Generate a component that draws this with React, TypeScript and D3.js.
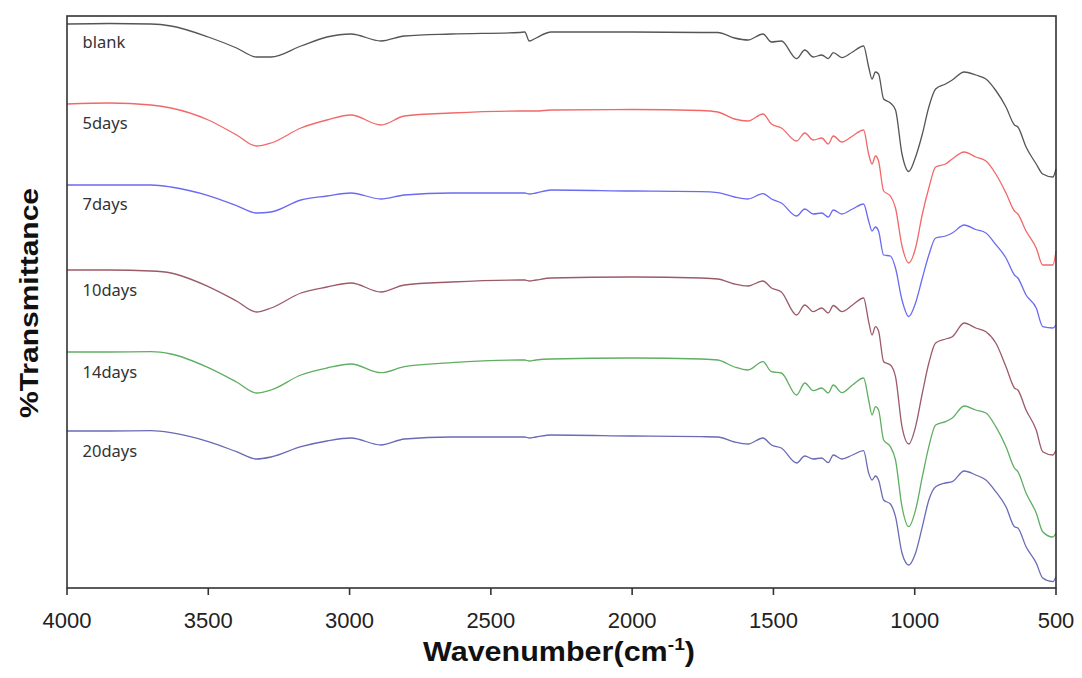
import React from "react";
import * as d3 from "d3";

const wavenumbers = [4000, 3850, 3703, 3632, 3500, 3400, 3330, 3278, 3172, 3080, 2995, 2889, 2806, 2640, 2400, 2380, 2364, 2340, 2287, 2000, 1756, 1697, 1638, 1590, 1537, 1507, 1472, 1418, 1389, 1359, 1329, 1306, 1288, 1258, 1220, 1181, 1163, 1151, 1139, 1128, 1110, 1086, 1068, 1045, 1021, 997, 973, 950, 926, 891, 867, 825, 784, 748, 713, 677, 647, 635, 606, 570, 547, 511, 500];

const blank = [576, 576.5, 576, 574, 563, 552, 543, 543, 554, 563, 566, 559, 564, 566, 567.5, 568, 559, 562, 568, 568, 567.5, 567.5, 562, 560, 566, 558, 559, 541.4, 550, 543, 545, 541.4, 547.4, 542.4, 548, 554, 533, 521, 528, 526, 501, 497, 490, 446, 428.5, 443, 466, 493, 511, 516, 520, 528, 525, 521, 509.5, 493, 475, 473, 453, 436, 426, 423, 431];
const days5 = [496, 497, 495, 492, 480, 465, 454, 457, 472, 480, 485, 475, 484, 487, 489, 489, 489, 489, 490, 490.5, 489.5, 488, 481, 479, 486, 476, 472, 459, 467, 460, 462, 456, 464, 458, 464, 470, 446, 436, 444, 439, 409, 404, 392, 354, 337, 352, 386, 412, 433, 436, 441, 448, 443, 439, 426, 407, 389, 386, 369, 352, 335, 335, 349];
const days7 = [415, 415, 415, 413, 404.4, 394.3, 387, 388, 400, 404, 407, 401, 405, 407, 407, 407, 406, 407, 410, 409, 408.4, 407.4, 403, 401, 406.4, 401, 397, 384, 391, 386, 387, 383, 390, 386, 391, 396, 379, 369, 373, 369, 345, 344, 332, 300, 283.4, 297, 322, 345, 362, 364, 367, 375, 370.5, 367, 355.4, 342, 325, 322, 305, 292, 273.4, 272, 275];
const days10 = [330, 330, 329, 327, 313.4, 299, 288, 292, 307, 313, 317, 308, 315, 318, 320, 320, 319, 320, 322, 323, 322, 321, 316, 314, 319, 312, 308, 285, 295, 288.4, 292, 287, 294.5, 288.4, 295, 302, 278.4, 265, 273.3, 269, 238.3, 235, 223.3, 173.3, 156, 173.3, 207, 237, 257, 261, 263.3, 277, 272, 268.3, 257, 233.3, 212, 210, 190, 170, 148.3, 145, 150];
const days14 = [248, 248, 248.3, 246, 232.4, 218, 207, 210, 225, 232, 236, 227.3, 233.3, 237.3, 240, 240, 239, 240, 241, 242, 241, 240, 233, 230, 238.3, 228.3, 227, 205, 217, 209.3, 212, 207, 215, 207.3, 215, 222, 200, 185, 193.3, 190, 160, 153.3, 140, 93.3, 73.3, 90, 123.3, 153.3, 175, 178.3, 182, 194, 190, 187, 173.3, 153.3, 132, 128.3, 107, 87, 68.3, 63, 67];
const days20 = [169, 169, 169.3, 167.3, 158.4, 148.3, 141, 143, 153.3, 159, 162, 155, 161, 163, 163, 163, 162, 163, 165, 164, 163.3, 163, 158, 156, 162, 155, 152, 137, 144, 141, 142, 137.3, 145, 141, 145, 149.3, 127, 120, 124, 120, 100, 96, 83.3, 47, 35, 47, 73.3, 100, 113.3, 117, 118.3, 129, 125, 120, 108.3, 93.3, 73.3, 72, 53.3, 37, 22, 18.3, 23.3];

const seriesNames = ["blank", "5days", "7days", "10days", "14days", "20days"];
const seriesValues = [blank, days5, days7, days10, days14, days20];
const seriesColors = ["#555555", "#f26868", "#6a6af2", "#9c5a68", "#5fae62", "#6a6ab6"];
const labelValues = [552, 471, 390, 304, 222, 143];
const xTicks = [4000, 3500, 3000, 2500, 2000, 1500, 1000, 500];

const W = 1082;
const H = 678;
const left = 67;
const right = 1056;
const top = 16;
const bottom = 588;

export default function App() {
  const x = d3.scaleLinear().domain([4000, 500]).range([left, right]);
  const y = d3.scaleLinear().domain([12, 584]).range([bottom, top]);
  const line = d3
    .line<number>()
    .x((_, i) => x(wavenumbers[i]))
    .y((d) => y(d))
    .curve(d3.curveMonotoneX);

  return (
    <svg
      width={W}
      height={H}
      style={{ position: "absolute", left: 0, top: 0, background: "#fff" }}
      fontFamily="'Liberation Sans', Arial, sans-serif"
    >
      <rect x={0} y={0} width={W} height={H} fill="#fff" />
      {seriesValues.map((vals, k) => (
        <path
          key={seriesNames[k]}
          d={line(vals) || ""}
          fill="none"
          stroke={seriesColors[k]}
          strokeWidth={1.3}
          strokeLinejoin="round"
        />
      ))}
      {seriesNames.map((n, k) => (
        <text
          key={n}
          x={x(3945)}
          y={y(labelValues[k])}
          fontFamily="'Noto Sans', 'Open Sans', sans-serif"
          fontSize={16.5}
          fill="#333"
        >
          {n}
        </text>
      ))}
      <rect
        x={left}
        y={top}
        width={right - left}
        height={bottom - top}
        fill="none"
        stroke="#333"
        strokeWidth={1.6}
      />
      {xTicks.map((t) => (
        <g key={t}>
          <line x1={x(t)} x2={x(t)} y1={bottom} y2={bottom + 7} stroke="#333" strokeWidth={1.6} />
          <text x={x(t)} y={628} textAnchor="middle" fontSize={22} fill="#222">
            {t}
          </text>
        </g>
      ))}
      <text
        x={559}
        y={661}
        textAnchor="middle"
        fontSize={27}
        fontWeight="bold"
        fill="#111"
        textLength={272}
        lengthAdjust="spacingAndGlyphs"
      >
        Wavenumber(cm
        <tspan fontSize={17} dy={-11}>-1</tspan>
        <tspan dy={11}>)</tspan>
      </text>
      <text
        transform={`translate(38,303) rotate(-90)`}
        textAnchor="middle"
        fontSize={26}
        fontWeight="bold"
        fill="#111"
        textLength={230}
        lengthAdjust="spacingAndGlyphs"
      >
        %Transmittance
      </text>
    </svg>
  );
}
